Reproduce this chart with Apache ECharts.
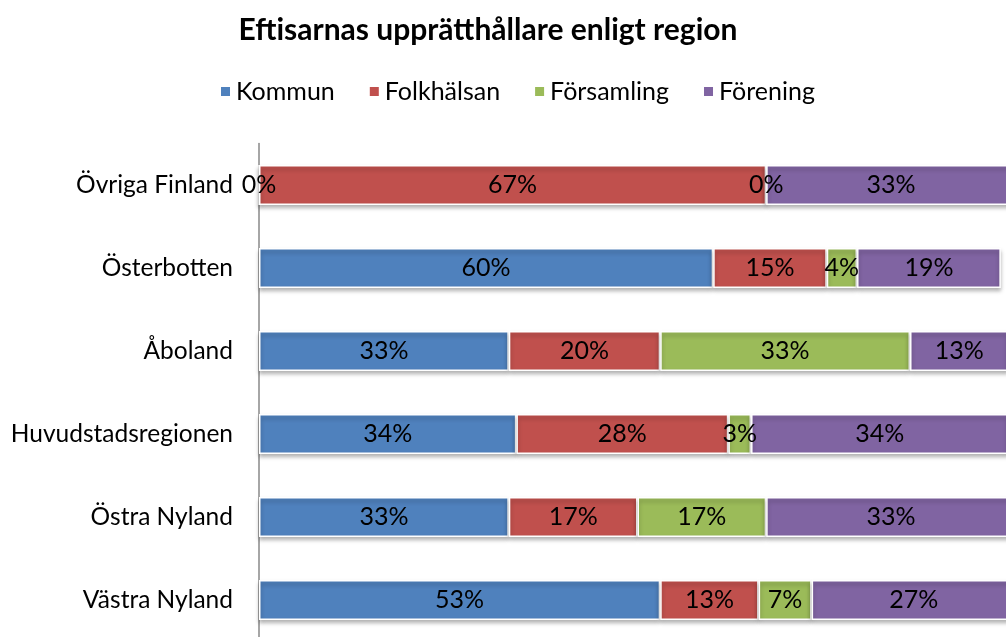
<!DOCTYPE html>
<html>
<head>
<meta charset="utf-8">
<script src="https://cdn.jsdelivr.net/npm/echarts@6/dist/echarts.min.js"></script>
<style>
  html, body { margin: 0; padding: 0; background: #fff; }
  #chart { width: 1006px; height: 637px; }
</style>
</head>
<body>
<div id="chart"></div>
<script>
// regioner, nedifrån och upp (kategoriaxeln ritas nerifrån)
const regions = ['Västra Nyland', 'Östra Nyland', 'Huvudstadsregionen', 'Åboland', 'Österbotten', 'Övriga Finland'];
const seriesNames = ['Kommun', 'Folkhälsan', 'Församling', 'Förening'];
const kommun = [53, 33, 34, 33, 60, 0];
const folkhalsan = [13, 17, 28, 20, 15, 67];
const forsamling = [7, 17, 3, 33, 4, 0];
const forening = [27, 33, 34, 13, 19, 33];
const colors = ['#4F81BD', '#C0504D', '#9BBB59', '#8064A2'];

const font = 'Lato, "Open Sans", sans-serif';
const values = [kommun, folkhalsan, forsamling, forening];

const myChart = echarts.init(document.getElementById('chart'));
const option = {
  animation: false,
  color: colors,
  title: {
    text: 'Eftisarnas upprätthållare enligt region',
    left: 483,
    textAlign: 'center',
    top: 10,
    textStyle: {
      fontFamily: font,
      fontSize: 30,
      fontWeight: 'bold',
      color: '#000',
    },
  },
  legend: {
    data: seriesNames,
    left: 214,
    top: 74,
    itemWidth: 11,
    itemHeight: 11,
    itemGap: 33,
    icon: 'rect',
    textStyle: {
      fontFamily: font,
      fontSize: 25,
      color: '#000',
    },
  },
  // plotytan sträcker sig förbi bildens högra kant
  grid: {
    left: 259,
    width: 757,
    top: 143.5,
    height: 498,
    containLabel: false,
    outerBoundsMode: 'none',
  },
  xAxis: {
    type: 'value',
    min: 0,
    max: 100,
    show: false,
  },
  yAxis: {
    type: 'category',
    data: regions,
    axisLine: { show: true, lineStyle: { color: '#888', width: 1.5 } },
    axisTick: { show: false },
    axisLabel: {
      margin: 26,
      fontFamily: font,
      fontSize: 24.5,
      color: '#000',
    },
  },
  series: seriesNames.map((name, i) => ({
    name,
    type: 'bar',
    stack: 'total',
    barCategoryGap: '52%',
    data: values[i],
    itemStyle: {
      borderColor: '#fff',
      borderWidth: 1.5,
      shadowColor: 'rgba(0,0,0,0.3)',
      shadowBlur: 4,
      shadowOffsetY: 3,
    },
    label: {
      show: true,
      position: 'inside',
      formatter: p => p.value + '%',
      fontFamily: font,
      fontSize: 25,
      color: '#000',
    },
  })),
};
myChart.setOption(option);
</script>
</body>
</html>
